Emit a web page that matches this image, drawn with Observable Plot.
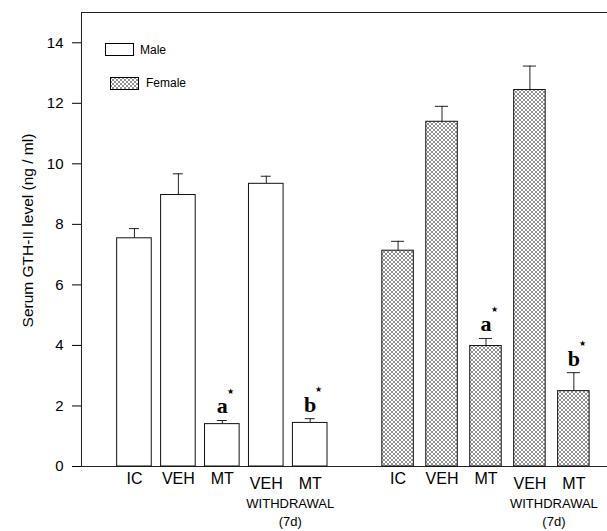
<!DOCTYPE html>
<html><head><meta charset="utf-8">
<script src="https://cdn.jsdelivr.net/npm/d3@7"></script>
<script src="https://cdn.jsdelivr.net/npm/@observablehq/plot@0.6"></script>
<style>
body{margin:0;background:#fff;font-family:"Liberation Sans",Arial,sans-serif;overflow:hidden;}
#wrap{position:relative;width:607px;height:531px;overflow:hidden;}
.sw{position:absolute;box-sizing:border-box;border:1px solid #000;}
.lt{position:absolute;font-size:12px;line-height:12px;color:#000;white-space:nowrap;}
</style></head><body>
<div id="wrap"></div>
<script>
const sexes = ["Male", "Female"];
const treatments = ["IC", "VEH", "MT", "VEH", "MT"];
const withdrawal = [false, false, false, true, true];
const maleMeans = [7.54, 8.97, 1.40, 9.34, 1.44];
const maleErrors = [0.32, 0.70, 0.12, 0.25, 0.14];
const femaleMeans = [7.13, 11.39, 3.98, 12.44, 2.49];
const femaleErrors = [0.31, 0.51, 0.25, 0.79, 0.61];
const significance = [null, null, "a", null, "b"];
const yTicks = [0, 2, 4, 6, 8, 10, 12, 14];
const yLabel = "Serum GTH-II level (ng / ml)";
const withdrawalLabel = ["WITHDRAWAL", "(7d)"];

const rows = [];
sexes.forEach((sex, s) => {
  const means = s === 0 ? maleMeans : femaleMeans;
  const errs = s === 0 ? maleErrors : femaleErrors;
  treatments.forEach((t, i) => rows.push({
    key: sex + "-" + i, sex, treatment: t, withdrawal: withdrawal[i],
    mean: means[i], err: errs[i], top: means[i] + errs[i], sig: significance[i]
  }));
});
const male = rows.filter(r => r.sex === "Male");
const female = rows.filter(r => r.sex === "Female");
const domain = [...male.map(r => r.key), "gap", ...female.map(r => r.key)];
const font = '"Liberation Sans", Arial, sans-serif';

const chart = Plot.plot({
  width: 607, height: 531,
  marginLeft: 81, marginRight: 0, marginTop: 12, marginBottom: 65,
  style: {fontFamily: font, background: "white", color: "black"},
  x: {type: "band", domain, range: [116.65, 590.65], paddingInner: 0.2126, paddingOuter: 0, round: false, axis: null},
  y: {domain: [0, 15], axis: null},
  marks: [
    Plot.ruleY([0, 15], {stroke: "#222"}),
    Plot.ruleX([domain[0]], {x: d => d, y1: 0, y2: 15, dx: -52.95, stroke: "#222"}),
    Plot.axisY({ticks: yTicks, tickSize: 9, tickPadding: 9, fontSize: 15, label: null}),
    Plot.ruleX(rows, {x: "key", y1: "mean", y2: "top", stroke: "#222"}),
    Plot.tickY(male, {x: "key", y: "top", insetLeft: 12.3, insetRight: 12.3, stroke: "#222"}),
    Plot.tickY(female, {x: "key", y: "top", insetLeft: 10.75, insetRight: 10.75, stroke: "#222"}),
    Plot.barY(male, {x: "key", y: "mean", fill: "white", stroke: "#111"}),
    Plot.barY(female, {x: "key", y: "mean", fill: "url(#xhatch)", stroke: "#111", insetLeft: 1.55, insetRight: 1.55}),
    Plot.text(rows.filter(r => !r.withdrawal), {x: "key", text: "treatment", frameAnchor: "bottom", dy: 17, fontSize: 16}),
    Plot.text(rows.filter(r => r.withdrawal), {x: "key", text: "treatment", frameAnchor: "bottom", dy: 22, fontSize: 16}),
    Plot.text(rows.filter(r => r.withdrawal && r.treatment === "VEH"), {x: "key", text: () => withdrawalLabel[0], frameAnchor: "bottom", dx: 24, dy: 41, fontSize: 13}),
    Plot.text(rows.filter(r => r.withdrawal && r.treatment === "VEH"), {x: "key", text: () => withdrawalLabel[1], frameAnchor: "bottom", dx: 24, dy: 59, fontSize: 13}),
    Plot.text(rows.filter(r => r.sig), {x: "key", y: "top", text: "sig", lineAnchor: "bottom", dy: -7, fontFamily: '"Liberation Serif", serif', fontWeight: "bold", fontSize: 22}),
    Plot.text(rows.filter(r => r.sig), {x: "key", y: "top", text: () => "★", dx: 8.5, dy: -29, fontSize: 8}),
    Plot.text([yLabel], {text: d => d, frameAnchor: "left", textAnchor: "middle", rotate: -90, dx: -53, dy: -9, fontSize: 15.5})
  ]
});

const svg = chart.tagName.toLowerCase() === "svg" ? chart : chart.querySelector("svg");
const defs = d3.select(svg).insert("defs", ":first-child");
const pat = defs.append("pattern").attr("id", "xhatch").attr("patternUnits", "userSpaceOnUse").attr("width", 4).attr("height", 4);
pat.append("rect").attr("width", 4).attr("height", 4).attr("fill", "white");
pat.append("path").attr("d", "M0,0L4,4M4,0L0,4M-1,3L1,5M3,-1L5,1M-1,1L1,-1M3,5L5,3").attr("stroke", "#444").attr("stroke-width", 0.6);

const wrap = document.getElementById("wrap");
wrap.appendChild(chart);

const legend = [
  {label: sexes[0], sx: 105, sy: 43, tx: 140, ty: 44, fill: "white"},
  {label: sexes[1], sx: 110, sy: 77, tx: 146, ty: 77, fill: "pattern"}
];
legend.forEach(l => {
  const sw = document.createElement("div");
  sw.className = "sw";
  Object.assign(sw.style, {left: l.sx + "px", top: l.sy + "px", width: "29px", height: "13px", background: "white"});
  if (l.fill === "pattern") {
    sw.innerHTML = '<svg width="27" height="11" style="display:block"><defs><pattern id="xhatch2" patternUnits="userSpaceOnUse" width="4" height="4"><rect width="4" height="4" fill="white"/><path d="M0,0L4,4M4,0L0,4M-1,3L1,5M3,-1L5,1M-1,1L1,-1M3,5L5,3" stroke="#444" stroke-width="0.6"/></pattern></defs><rect width="27" height="11" fill="url(#xhatch2)"/></svg>';
  }
  wrap.appendChild(sw);
  const t = document.createElement("div");
  t.className = "lt";
  t.style.left = l.tx + "px";
  t.style.top = l.ty + "px";
  t.textContent = l.label;
  wrap.appendChild(t);
});
</script>
</body></html>
